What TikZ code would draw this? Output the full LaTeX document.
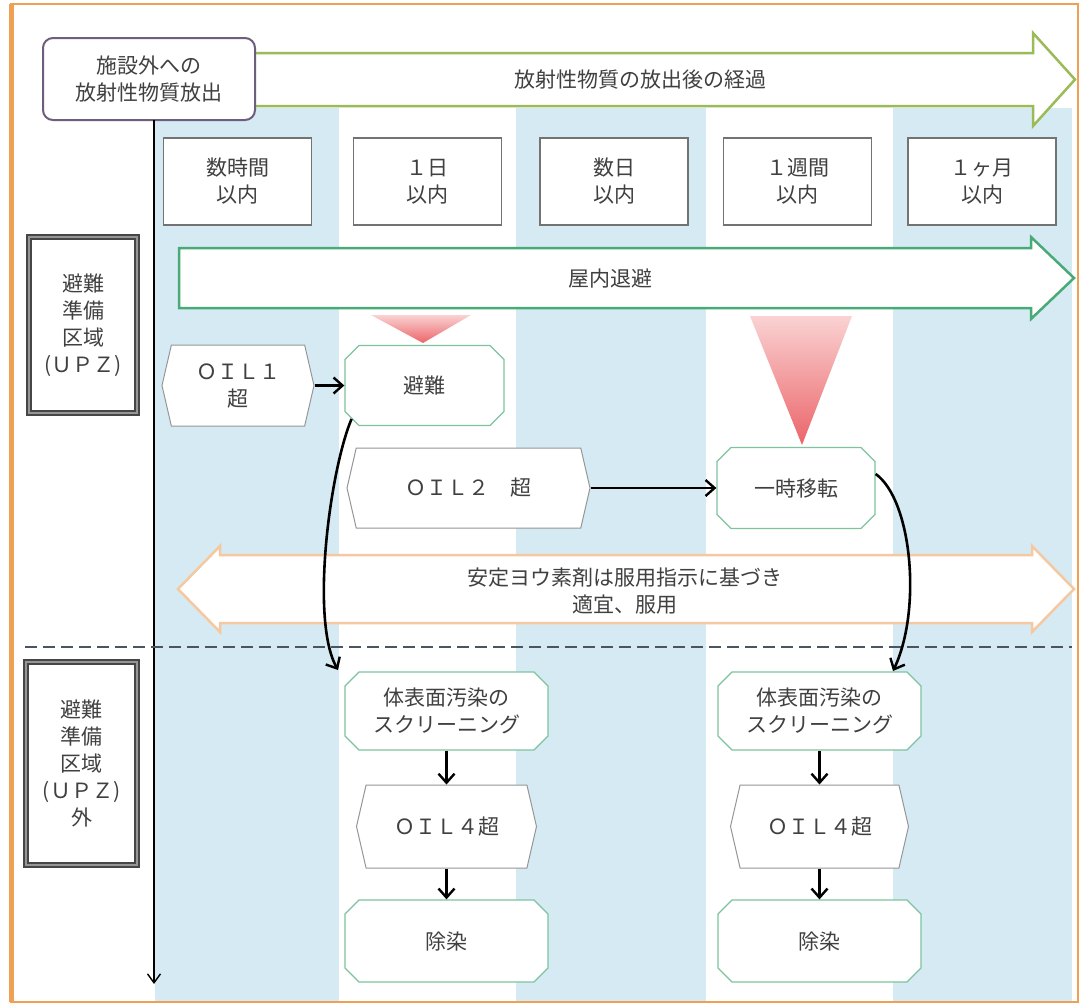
\documentclass[tikz,border=0pt]{standalone}
\usepackage{fontspec}
\setmainfont{Noto Sans CJK JP}
\usetikzlibrary{arrows.meta,shapes.misc,shapes.symbols,calc}
\definecolor{frameor}{RGB}{240,160,82}
\definecolor{stripe}{RGB}{214,234,243}
\definecolor{topgreen}{RGB}{155,187,89}
\definecolor{shgreen}{RGB}{72,170,118}
\definecolor{iodor}{RGB}{246,200,160}
\definecolor{chamgreen}{RGB}{125,196,158}
\definecolor{hexgray}{RGB}{150,150,150}
\definecolor{boxgray}{RGB}{115,115,115}
\definecolor{srcpurple}{RGB}{108,94,124}
\definecolor{txtgray}{RGB}{64,64,64}
\definecolor{zonedark}{RGB}{70,70,70}
\definecolor{zonemid}{RGB}{150,150,150}
\definecolor{dashcol}{RGB}{75,85,95}
\definecolor{tritop}{RGB}{250,210,210}
\definecolor{tribot}{RGB}{235,100,105}
\begin{document}
\begin{tikzpicture}[x=1pt,y=-1pt,
  txt/.style={font=\fontsize{21}{27}\selectfont, text=txtgray, align=center},
  srcbox/.style={txt, draw=srcpurple, line width=2, rounded corners=10, fill=white, minimum width=212, minimum height=82, inner sep=0},
  timebox/.style={txt, draw=boxgray, line width=1.3, fill=white, minimum width=148, minimum height=87, inner sep=0},
  zonebox/.style={txt, draw=zonedark, double=zonemid, double distance=2.5, line width=1.4, fill=white, inner sep=0},
  hexbox/.style={txt, shape=signal, signal to=east and west, signal pointer angle=154, draw=hexgray, line width=1, fill=white, inner sep=0},
  chambox/.style={txt, shape=chamfered rectangle, chamfered rectangle xsep=7, chamfered rectangle ysep=7, draw=chamgreen, line width=1.3, fill=white, inner sep=0},
  conn/.style={-{Straight Barb[length=9,width=16,line width=2.4]}, line width=2.6, black},
  blockarrow/.style={line width=2.5, fill=white},
]
\useasboundingbox (0,0) rectangle (1084,1005);
\fill[white] (0,0) rectangle (1084,1005);
% stripes
\fill[stripe] (155,108) rectangle (339,1001);
\fill[stripe] (516,108) rectangle (706,1001);
\fill[stripe] (893,108) rectangle (1072,1001);
% frame
\draw[frameor, line width=2.5] (11,4) rectangle (1078,1002);
\draw[frameor, line width=5] (11,4) -- (11,1002);
% top arrow
\draw[blockarrow, draw=topgreen] (250,53) -- (1033,53) -- (1033,33) -- (1075,79.5) -- (1033,126) -- (1033,106) -- (250,106) -- cycle;
\node[txt] (toptxt) at (640,80) {放射性物質の放出後の経過};
\node[srcbox] (src) at (149,79) {施設外への\\放射性物質放出};
% axis
\coordinate (axtop) at (154,120);
\coordinate (axbot) at (154,984);
\draw[line width=1.4, -{Straight Barb[length=9,width=13]}] (axtop) -- (axbot);
% time boxes
\node[timebox] (t1) at (237.5,181.5) {数時間\\以内};
\node[timebox] (t2) at (427.5,181.5) {１日\\以内};
\node[timebox] (t3) at (614,181.5) {数日\\以内};
\node[timebox] (t4) at (797.5,181.5) {１週間\\以内};
\node[timebox] (t5) at (982,181.5) {１ヶ月\\以内};
% shelter arrow
\draw[blockarrow, draw=shgreen] (179,248) -- (1031,248) -- (1031,237) -- (1074,278) -- (1031,319) -- (1031,308) -- (179,308) -- cycle;
\node[txt] (shelter) at (610,279) {屋内退避};
% triangles
\shade[top color=tritop, bottom color=tribot] (371,315) -- (471,315) -- (423,343) -- cycle;
\shade[top color=tritop, bottom color=tribot] (750,316) -- (852,316) -- (802,445) -- cycle;
% zone boxes
\node[zonebox, minimum width=108, minimum height=176] (z1) at (83,325) {避難\\準備\\区域\\(ＵＰＺ)};
\node[zonebox, minimum width=111, minimum height=203] (z2) at (81.5,763.5) {避難\\準備\\区域\\(ＵＰＺ)\\外};
% upper flow
\node[hexbox, minimum width=152, minimum height=81] (oil1) at (238,385.5) {ＯＩＬ１\\超};
\node[chambox, minimum width=159, minimum height=80] (hinan) at (424.5,385.5) {避難};
\node[hexbox, minimum width=243, minimum height=80] (oil2) at (468.5,488) {ＯＩＬ２　超};
\node[chambox, minimum width=158, minimum height=81] (ichiji) at (796,488) {一時移転};
\draw[conn] (oil1.east) -- (hinan.west);
\draw[conn] (oil2.east) -- (ichiji.west);
% iodine arrow
\draw[blockarrow, draw=iodor] (178,589) -- (220,546) -- (220,555) -- (1032,555) -- (1032,546) -- (1074,589) -- (1032,632) -- (1032,623) -- (220,623) -- (220,632) -- cycle;
\node[txt] (iod) at (625,591) {安定ヨウ素剤は服用指示に基づき\\適宜、服用};
% dashed line
\draw[dashcol, line width=2.5, dash pattern=on 12 off 6] (25,647) -- (1072,647);
% lower flow
\node[chambox, minimum width=203, minimum height=78] (scr1) at (446.5,711) {体表面汚染の\\スクリーニング};
\node[hexbox, minimum width=180, minimum height=83] (oil4a) at (446.5,826.5) {ＯＩＬ４超};
\node[chambox, minimum width=203, minimum height=82] (jos1) at (446.5,941) {除染};
\node[chambox, minimum width=203, minimum height=78] (scr2) at (819.5,711) {体表面汚染の\\スクリーニング};
\node[hexbox, minimum width=178, minimum height=83] (oil4b) at (819.5,826.5) {ＯＩＬ４超};
\node[chambox, minimum width=203, minimum height=82] (jos2) at (819.5,941) {除染};
\draw[conn] (scr1.south) -- (oil4a.north);
\draw[conn] (oil4a.south) -- (jos1.north);
\draw[conn] (scr2.south) -- (oil4b.north);
\draw[conn] (oil4b.south) -- (jos2.north);
% curved connectors
\coordinate (e1) at (338,670);
\coordinate (e2) at (893,671);
\draw[conn] (hinan.south west) .. controls (330,470) and (310,620) .. (e1);
\draw[conn] (ichiji.10) .. controls (912,500) and (922,610) .. (e2);
\end{tikzpicture}
\end{document}
